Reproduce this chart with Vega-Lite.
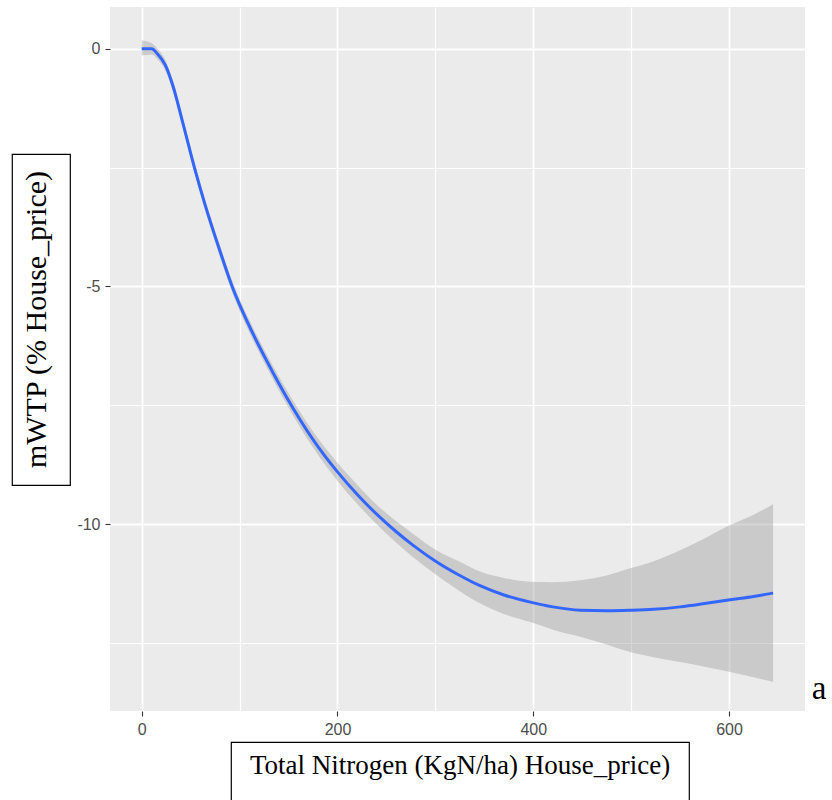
{
  "$schema": "https://vega.github.io/schema/vega-lite/v6.json",
  "padding": {"left": 11, "top": 7, "right": 0, "bottom": 0},
  "background": "white",
  "config": {
    "view": {"stroke": null},
    "axis": {
      "domain": false,
      "grid": true,
      "gridColor": "#FFFFFF",
      "tickColor": "#333333",
      "tickSize": 5,
      "tickWidth": 1.1,
      "labelFont": "Liberation Sans",
      "labelFontSize": 16,
      "labelColor": "#4D4D4D",
      "labelPadding": 5,
      "labelFlush": false,
      "labelOverlap": false,
      "title": null
    }
  },
  "datasets": {
    "smooth": [
      {"x": 0, "y": 0, "lo": -0.14, "hi": 0.18},
      {"x": 5, "y": 0, "lo": -0.13, "hi": 0.16},
      {"x": 10, "y": 0, "lo": -0.12, "hi": 0.12},
      {"x": 17, "y": -0.13, "lo": -0.24, "hi": -0.02},
      {"x": 24, "y": -0.34, "lo": -0.45, "hi": -0.23},
      {"x": 32, "y": -0.79, "lo": -0.9, "hi": -0.68},
      {"x": 42, "y": -1.56, "lo": -1.67, "hi": -1.45},
      {"x": 54, "y": -2.51, "lo": -2.62, "hi": -2.4},
      {"x": 65, "y": -3.3, "lo": -3.41, "hi": -3.19},
      {"x": 80, "y": -4.26, "lo": -4.38, "hi": -4.14},
      {"x": 92, "y": -4.98, "lo": -5.1, "hi": -4.86},
      {"x": 114, "y": -6.01, "lo": -6.14, "hi": -5.88},
      {"x": 134, "y": -6.81, "lo": -6.95, "hi": -6.67},
      {"x": 148, "y": -7.33, "lo": -7.48, "hi": -7.18},
      {"x": 175, "y": -8.22, "lo": -8.39, "hi": -8.05},
      {"x": 200, "y": -8.9, "lo": -9.09, "hi": -8.71},
      {"x": 220, "y": -9.37, "lo": -9.57, "hi": -9.17},
      {"x": 240, "y": -9.79, "lo": -10.0, "hi": -9.59},
      {"x": 260, "y": -10.16, "lo": -10.39, "hi": -9.94},
      {"x": 277, "y": -10.44, "lo": -10.69, "hi": -10.2},
      {"x": 301, "y": -10.79, "lo": -11.07, "hi": -10.55},
      {"x": 325, "y": -11.08, "lo": -11.41, "hi": -10.79},
      {"x": 345, "y": -11.29, "lo": -11.66, "hi": -10.99},
      {"x": 370, "y": -11.49, "lo": -11.89, "hi": -11.13},
      {"x": 397, "y": -11.64, "lo": -12.06, "hi": -11.21},
      {"x": 420, "y": -11.74, "lo": -12.22, "hi": -11.22},
      {"x": 448, "y": -11.81, "lo": -12.37, "hi": -11.18},
      {"x": 475, "y": -11.82, "lo": -12.53, "hi": -11.08},
      {"x": 499, "y": -11.81, "lo": -12.69, "hi": -10.93},
      {"x": 523, "y": -11.79, "lo": -12.8, "hi": -10.78},
      {"x": 550, "y": -11.74, "lo": -12.9, "hi": -10.55},
      {"x": 575, "y": -11.67, "lo": -13.0, "hi": -10.3},
      {"x": 601, "y": -11.59, "lo": -13.11, "hi": -10.02},
      {"x": 625, "y": -11.52, "lo": -13.22, "hi": -9.8},
      {"x": 645, "y": -11.45, "lo": -13.32, "hi": -9.58}
    ]
  },
  "hconcat": [
    {
      "vconcat": [
        {"width": 58, "height": 147, "data": {"values": []}, "mark": {"type": "point", "opacity": 0}, "encoding": {}},
        {
          "width": 58,
          "height": 331,
          "view": {"stroke": "black", "strokeWidth": 1.2, "fill": null},
          "data": {"values": [{"t": "mWTP (% House_price)"}]},
          "mark": {"type": "text", "angle": 270, "font": "Liberation Serif", "fontSize": 30, "color": "black", "align": "center", "baseline": "middle", "dy": -4},
          "encoding": {"text": {"field": "t"}}
        }
      ],
      "spacing": 0,
      "bounds": "flush"
    },
    {
      "vconcat": [
        {
          "width": 695,
          "height": 704,
          "view": {"fill": "#EBEBEB", "stroke": null},
          "title": {"text": "a", "orient": "right", "anchor": "end", "angle": 0, "font": "Liberation Serif", "fontSize": 33, "fontWeight": "normal", "color": "black", "offset": -8, "align": "left", "baseline": "alphabetic", "dy": -38},
          "data": {"name": "smooth"},
          "encoding": {
            "x": {
              "field": "x", "type": "quantitative",
              "scale": {"domain": [-32.4, 677.6], "nice": false, "zero": false},
              "axis": {
                "values": [0, 100, 200, 300, 400, 500, 600],
                "labelExpr": "datum.value % 200 === 0 ? datum.value + '' : ''",
                "tickOpacity": {"condition": {"test": "datum.value % 200 === 0", "value": 1}, "value": 0},
                "gridWidth": {"condition": {"test": "datum.value % 200 === 0", "value": 1.8}, "value": 1.2}
              }
            }
          },
          "layer": [
            {
              "mark": {"type": "area", "color": "#999999", "opacity": 0.4, "interpolate": "monotone"},
              "encoding": {
                "y": {
                  "field": "lo", "type": "quantitative",
                  "scale": {"domain": [-13.93, 0.878], "nice": false, "zero": false},
                  "axis": {
                    "values": [0, -2.5, -5, -7.5, -10, -12.5],
                    "labelExpr": "datum.value % 5 === 0 ? datum.value + '' : ''",
                    "tickOpacity": {"condition": {"test": "datum.value % 5 === 0", "value": 1}, "value": 0},
                    "gridWidth": {"condition": {"test": "datum.value % 5 === 0", "value": 1.8}, "value": 1.2}
                  }
                },
                "y2": {"field": "hi"}
              }
            },
            {
              "mark": {"type": "line", "color": "#3366FF", "strokeWidth": 3, "interpolate": "monotone"},
              "encoding": {"y": {"field": "y", "type": "quantitative"}}
            }
          ]
        },
        {
          "hconcat": [
            {"width": 121, "height": 62, "data": {"values": []}, "mark": {"type": "point", "opacity": 0}, "encoding": {}},
            {
              "width": 458,
              "height": 62,
              "view": {"stroke": "black", "strokeWidth": 1.2, "fill": null},
              "data": {"values": [{"t": "Total Nitrogen (KgN/ha) House_price)"}]},
              "mark": {"type": "text", "font": "Liberation Serif", "fontSize": 27, "color": "black", "align": "center", "baseline": "middle", "dy": -7},
              "encoding": {"text": {"field": "t"}}
            }
          ],
          "spacing": 0,
          "bounds": "flush"
        }
      ],
      "spacing": 31,
      "bounds": "flush"
    }
  ],
  "spacing": 5,
  "bounds": "full"
}
